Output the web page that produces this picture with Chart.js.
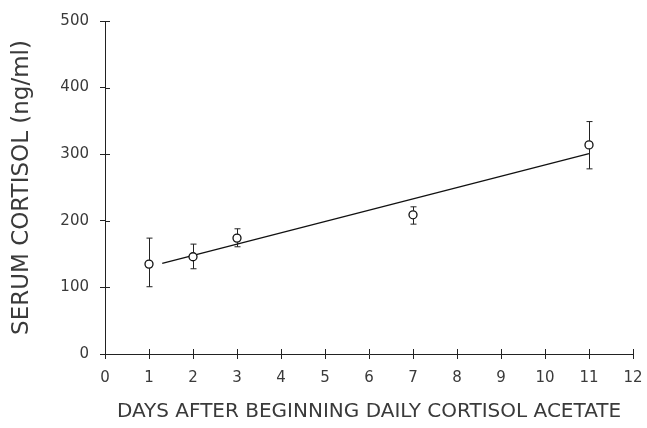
<!DOCTYPE html>
<html>
<head>
<meta charset="utf-8">
<script src="https://cdn.jsdelivr.net/npm/chart.js@4"></script>
<style>
html,body{margin:0;padding:0;background:#fff;}
#wrap{width:647px;height:428px;position:relative;}
</style>
</head>
<body>
<div id="wrap"><canvas id="c"></canvas></div>
<script>
// Data
const days = [1, 2, 3, 7, 11];
const cortisolMean = [135, 146, 174, 209, 314];
const errLow = [101, 128, 161, 195, 278];
const errHigh = [174, 165, 188, 221, 349];
const fitDays = [1.3, 11];
const fitValues = [136, 301];
const xTickValues = [0,1,2,3,4,5,6,7,8,9,10,11,12];
const yTickValues = [0,100,200,300,400,500];
const xTitle = 'DAYS AFTER BEGINNING DAILY CORTISOL ACETATE';
const yTitle = 'SERUM CORTISOL (ng/ml)';

const FONT = 'DejaVu Sans';
const TXT = '#3a3a3a';

const errorBars = {
  id: 'errorBars',
  afterDatasetsDraw(chart) {
    const {ctx, scales: {x, y}} = chart;
    ctx.save();
    ctx.strokeStyle = '#222';
    ctx.lineWidth = 1;
    days.forEach((d, i) => {
      const px = Math.round(x.getPixelForValue(d)) + 0.5;
      const yl = y.getPixelForValue(errLow[i]);
      const yh = y.getPixelForValue(errHigh[i]);
      const ym = y.getPixelForValue(cortisolMean[i]);
      ctx.beginPath();
      ctx.moveTo(px, yh); ctx.lineTo(px, ym - 4);
      ctx.moveTo(px, ym + 4); ctx.lineTo(px, yl);
      ctx.moveTo(px - 3, yh); ctx.lineTo(px + 3, yh);
      ctx.moveTo(px - 3, yl); ctx.lineTo(px + 3, yl);
      ctx.stroke();
    });
    ctx.restore();
  }
};

const innerTicks = {
  id: 'innerTicks',
  afterDraw(chart) {
    const {ctx, scales: {x, y}} = chart;
    ctx.save();
    ctx.strokeStyle = '#222';
    ctx.lineWidth = 1;
    ctx.beginPath();
    xTickValues.forEach(v => {
      const px = Math.round(x.getPixelForValue(v)) + 0.5;
      ctx.moveTo(px, y.bottom); ctx.lineTo(px, y.bottom - 5);
    });
    yTickValues.forEach(v => {
      const py = Math.round(y.getPixelForValue(v)) + 0.5;
      ctx.moveTo(x.left, py); ctx.lineTo(x.left + 5, py);
    });
    ctx.stroke();
    ctx.restore();
  }
};

new Chart(document.getElementById('c'), {
  type: 'scatter',
  data: {
    datasets: [
      {
        label: 'fit',
        type: 'line',
        data: fitDays.map((d, i) => ({x: d, y: fitValues[i]})),
        borderColor: '#111',
        borderWidth: 1.3,
        pointRadius: 0,
        fill: false,
        order: 2
      },
      {
        label: 'mean',
        data: days.map((d, i) => ({x: d, y: cortisolMean[i]})),
        pointStyle: 'circle',
        pointRadius: 4,
        pointBackgroundColor: '#fff',
        pointBorderColor: '#111',
        pointBorderWidth: 1.3,
        order: 1
      }
    ]
  },
  options: {
    responsive: true,
    maintainAspectRatio: false,
    animation: false,
    events: [],
    layout: {padding: {top: 21, right: 14, left: 0, bottom: 0}},
    plugins: {legend: {display: false}, tooltip: {enabled: false}},
    scales: {
      x: {
        type: 'linear',
        min: 0, max: 12,
        afterBuildTicks(s) { s.ticks = xTickValues.map(v => ({value: v})); },
        afterFit(s) { s.height = 74; s.paddingLeft = 0; s.paddingRight = 0; },
        border: {display: true, color: '#222', width: 1},
        grid: {drawOnChartArea: false, tickLength: 5, color: '#222'},
        ticks: {color: TXT, font: {family: FONT, size: 15}, padding: 10, maxRotation: 0},
        title: {display: true, text: xTitle, color: TXT, font: {family: FONT, size: 20}, padding: {top: 5}}
      },
      y: {
        type: 'linear',
        min: 0, max: 500,
        afterBuildTicks(s) { s.ticks = yTickValues.map(v => ({value: v})); },
        afterFit(s) { s.width = 105; s.paddingTop = 0; s.paddingBottom = 0; },
        border: {display: true, color: '#222', width: 1},
        grid: {drawOnChartArea: false, tickLength: 5, color: '#222'},
        ticks: {color: TXT, font: {family: FONT, size: 15}, padding: 11},
        title: {display: true, text: yTitle, color: TXT, font: {family: FONT, size: 23}, padding: {top: 8}}
      }
    }
  },
  plugins: [errorBars, innerTicks]
});
</script>
</body>
</html>
